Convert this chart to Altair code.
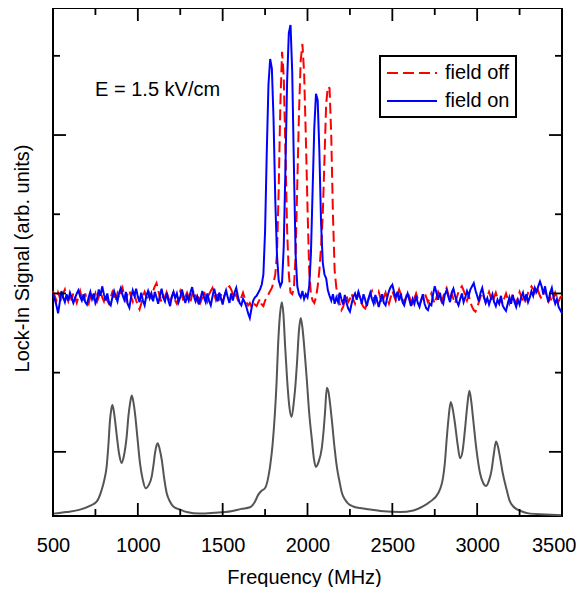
import altair as alt
import pandas as pd

FONT = "Liberation Sans, Arial, Helvetica, sans-serif"

# ---- data ----
freq_start = 500
freq_step = 10

field_on = [
    2.80, 2.74, 2.66, 2.56, 2.70, 2.84, 2.76, 2.70, 2.80, 2.72,   # 500
    2.82, 2.76, 2.69, 2.75, 2.81, 2.85, 2.77, 2.72, 2.80, 2.70,   # 600
    2.67, 2.76, 2.83, 2.74, 2.81, 2.69, 2.75, 2.86, 2.78, 2.90,   # 700
    2.80, 2.72, 2.81, 2.69, 2.66, 2.76, 2.84, 2.77, 2.71, 2.82,   # 800
    2.88, 2.79, 2.73, 2.83, 2.68, 2.63, 2.76, 2.85, 2.78, 2.87,   # 900
    2.77, 2.70, 2.82, 2.72, 2.66, 2.78, 2.84, 2.75, 2.81, 2.71,   # 1000
    2.83, 2.76, 2.68, 2.78, 2.87, 2.76, 2.71, 2.82, 2.72, 2.65,   # 1100
    2.77, 2.83, 2.75, 2.81, 2.70, 2.76, 2.86, 2.77, 2.69, 2.78,   # 1200
    2.72, 2.82, 2.89, 2.78, 2.71, 2.77, 2.67, 2.75, 2.84, 2.76,   # 1300
    2.70, 2.81, 2.72, 2.66, 2.77, 2.87, 2.78, 2.71, 2.82, 2.75,   # 1400
    2.67, 2.78, 2.85, 2.76, 2.69, 2.81, 2.72, 2.82, 2.88, 2.77,   # 1500
    2.69, 2.66, 2.74, 2.70, 2.64, 2.56, 2.50, 2.62, 2.72, 2.76,   # 1600
    2.78, 2.82, 2.86, 2.92, 3.05, 3.60, 4.60, 5.45, 5.77, 5.65,   # 1700
    5.00, 4.00, 3.30, 2.98, 2.90, 2.95, 3.40, 4.40, 5.50, 6.10,   # 1800
    6.20, 5.60, 4.40, 3.30, 2.90, 2.80, 2.76, 2.84, 2.74, 2.80,   # 1900
    2.76, 2.90, 3.30, 4.10, 4.90, 5.33, 5.25, 4.60, 3.70, 3.20,   # 2000
    3.05, 3.00, 2.85, 2.78, 2.72, 2.80, 2.68, 2.76, 2.70, 2.82,   # 2100
    2.74, 2.67, 2.79, 2.69, 2.62, 2.58, 2.68, 2.77, 2.81, 2.73,   # 2200
    2.83, 2.76, 2.68, 2.80, 2.73, 2.65, 2.75, 2.82, 2.74, 2.68,   # 2300
    2.79, 2.72, 2.64, 2.73, 2.80, 2.69, 2.66, 2.76, 2.84, 2.89,   # 2400
    2.92, 2.83, 2.75, 2.83, 2.72, 2.81, 2.70, 2.66, 2.75, 2.81,   # 2500
    2.73, 2.65, 2.74, 2.68, 2.78, 2.69, 2.64, 2.73, 2.80, 2.68,   # 2600
    2.62, 2.60, 2.68, 2.66, 2.80, 2.90, 2.82, 2.73, 2.82, 2.72,   # 2700
    2.68, 2.80, 2.85, 2.77, 2.70, 2.82, 2.87, 2.78, 2.71, 2.66,   # 2800
    2.74, 2.81, 2.70, 2.76, 2.84, 2.78, 2.86, 2.90, 2.94, 2.85,   # 2900
    2.78, 2.71, 2.82, 2.88, 2.77, 2.69, 2.75, 2.67, 2.74, 2.80,   # 3000
    2.70, 2.65, 2.73, 2.68, 2.78, 2.66, 2.62, 2.59, 2.68, 2.76,   # 3100
    2.68, 2.79, 2.70, 2.64, 2.73, 2.67, 2.77, 2.82, 2.72, 2.80,   # 3200
    2.70, 2.76, 2.84, 2.78, 2.88, 2.83, 2.90, 2.96, 2.90, 2.80,   # 3300
    2.90, 2.78, 2.70, 2.82, 2.88, 2.76, 2.68, 2.74, 2.64, 2.60,   # 3400
    2.56,                                                         # 3500
]

field_off = [
    2.84, 2.78, 2.72, 2.82, 2.76, 2.70, 2.81, 2.86, 2.77, 2.71,   # 500
    2.80, 2.72, 2.82, 2.76, 2.69, 2.77, 2.84, 2.75, 2.70, 2.81,   # 600
    2.72, 2.68, 2.77, 2.82, 2.75, 2.81, 2.71, 2.77, 2.84, 2.76,   # 700
    2.71, 2.80, 2.72, 2.68, 2.76, 2.83, 2.77, 2.71, 2.81, 2.75,   # 800
    2.82, 2.88, 2.78, 2.72, 2.81, 2.85, 2.77, 2.71, 2.80, 2.72,   # 900
    2.66, 2.61, 2.68, 2.77, 2.83, 2.78, 2.72, 2.81, 2.76, 2.84,   # 1000
    2.90, 2.94, 2.85, 2.76, 2.70, 2.80, 2.72, 2.82, 2.76, 2.69,   # 1100
    2.76, 2.82, 2.72, 2.68, 2.76, 2.84, 2.78, 2.71, 2.77, 2.82,   # 1200
    2.76, 2.70, 2.80, 2.85, 2.79, 2.72, 2.80, 2.70, 2.76, 2.83,   # 1300
    2.77, 2.71, 2.80, 2.84, 2.88, 2.80, 2.73, 2.81, 2.72, 2.80,   # 1400
    2.71, 2.77, 2.84, 2.88, 2.90, 2.86, 2.80, 2.75, 2.80, 2.72,   # 1500
    2.70, 2.76, 2.82, 2.75, 2.70, 2.66, 2.69, 2.64, 2.62, 2.67,   # 1600
    2.65, 2.70, 2.74, 2.67, 2.65, 2.72, 2.76, 2.80, 2.84, 2.88,   # 1700
    2.95, 3.05, 3.30, 4.10, 5.20, 5.86, 5.55, 4.60, 3.60, 3.05,   # 1800
    2.82, 2.80, 2.88, 3.30, 4.20, 5.10, 5.75, 5.96, 5.60, 4.80,   # 1900
    3.90, 3.10, 2.80, 2.72, 2.69, 2.76, 2.90, 3.10, 3.40, 3.80,   # 2000
    4.50, 5.20, 5.42, 5.40, 4.80, 3.80, 3.10, 2.88, 2.80, 2.68,   # 2100
    2.60, 2.64, 2.72, 2.78, 2.70, 2.74, 2.81, 2.73, 2.68, 2.76,   # 2200
    2.82, 2.74, 2.68, 2.64, 2.62, 2.67, 2.74, 2.80, 2.84, 2.76,   # 2300
    2.70, 2.77, 2.83, 2.75, 2.69, 2.76, 2.82, 2.74, 2.68, 2.76,   # 2400
    2.84, 2.78, 2.72, 2.79, 2.86, 2.80, 2.76, 2.70, 2.76, 2.83,   # 2500
    2.77, 2.71, 2.68, 2.75, 2.81, 2.74, 2.67, 2.72, 2.77, 2.82,   # 2600
    2.76, 2.70, 2.75, 2.81, 2.74, 2.68, 2.76, 2.83, 2.78, 2.71,   # 2700
    2.77, 2.84, 2.88, 2.80, 2.73, 2.81, 2.74, 2.68, 2.76, 2.83,   # 2800
    2.87, 2.90, 2.85, 2.78, 2.72, 2.79, 2.70, 2.64, 2.60, 2.58,   # 2900
    2.63, 2.70, 2.77, 2.82, 2.76, 2.70, 2.77, 2.83, 2.76, 2.70,   # 3000
    2.76, 2.82, 2.75, 2.69, 2.74, 2.68, 2.75, 2.81, 2.74, 2.68,   # 3100
    2.74, 2.80, 2.73, 2.68, 2.76, 2.83, 2.77, 2.71, 2.68, 2.75,   # 3200
    2.82, 2.86, 2.90, 2.87, 2.82, 2.89, 2.84, 2.78, 2.74, 2.80,   # 3300
    2.86, 2.78, 2.71, 2.77, 2.70, 2.75, 2.82, 2.76, 2.71, 2.76,   # 3400
    2.78,                                                         # 3500
]

ref_freq = [
    500, 580, 659, 720, 757, 787, 803, 816, 826, 836, 843, 850, 858, 866, 875,
    890, 905, 918, 934, 945, 954, 964, 973, 983, 998, 1013, 1030, 1046, 1064,
    1082, 1092, 1101, 1110, 1117, 1128, 1141, 1155, 1170, 1190, 1209, 1250,
    1288, 1366, 1450, 1550, 1610, 1661, 1690, 1710, 1730, 1749, 1765, 1779,
    1795, 1808, 1818, 1826, 1838, 1849, 1858, 1868, 1880, 1893, 1906, 1920,
    1930, 1938, 1950, 1960, 1970, 1984, 1996, 2010, 2026, 2038, 2049, 2065,
    2085, 2095, 2103, 2114, 2125, 2135, 2144, 2160, 2173, 2190, 2203, 2220,
    2238, 2270, 2309, 2380, 2450, 2545, 2624, 2680, 2722, 2771, 2800, 2810,
    2820, 2832, 2844, 2856, 2869, 2885, 2899, 2914, 2928, 2942, 2954, 2965,
    2977, 2995, 3017, 3035, 3052, 3070, 3085, 3098, 3111, 3122, 3134, 3150,
    3174, 3190, 3213, 3260, 3311, 3400, 3500,
]
ref_signal = [
    0.03, 0.05, 0.08, 0.13, 0.18, 0.33, 0.46, 0.62, 0.88, 1.21, 1.34, 1.40, 1.33, 1.20, 1.03,
    0.78, 0.67, 0.76, 1.00, 1.27, 1.42, 1.52, 1.45, 1.30, 0.98, 0.66, 0.45, 0.35, 0.39,
    0.50, 0.64, 0.79, 0.89, 0.92, 0.85, 0.71, 0.48, 0.29, 0.18, 0.12, 0.08,
    0.05, 0.03, 0.04, 0.06, 0.09, 0.11, 0.18, 0.27, 0.32, 0.35, 0.45, 0.62,
    0.92, 1.30, 1.70, 2.13, 2.55, 2.70, 2.55, 2.15, 1.72, 1.38, 1.25, 1.45,
    1.68, 1.93, 2.35, 2.50, 2.38, 2.05, 1.72, 1.30, 0.96, 0.72, 0.62, 0.68,
    0.87, 1.08, 1.30, 1.62, 1.55, 1.38, 1.20, 0.85, 0.62, 0.42, 0.29, 0.21,
    0.16, 0.12, 0.10, 0.08, 0.06, 0.05, 0.07, 0.12, 0.18, 0.29, 0.50, 0.68,
    0.96, 1.25, 1.44, 1.35, 1.17, 0.90, 0.73, 0.82, 1.09, 1.40, 1.58, 1.45,
    1.21, 0.85, 0.54, 0.42, 0.38, 0.45, 0.58, 0.78, 0.94, 0.88, 0.75, 0.55,
    0.33, 0.20, 0.12, 0.06, 0.03, 0.02, 0.01,
]

series_names = ["field off", "field on"]
series_colors = ["#ff0000", "#0000ff"]
x_major = [500, 1000, 1500, 2000, 2500, 3000, 3500]
x_minor = [750, 1250, 1750, 2250, 2750, 3250]
y_major = [0.81, 2.81, 4.81]
y_minor = [1.81, 3.81, 5.81]
annotation = "E = 1.5 kV/cm"

# ---- tables ----
n = len(field_on)
assert n == len(field_off)
freq = [freq_start + freq_step * i for i in range(n)]
sig = pd.DataFrame({
    "f": freq + freq,
    "v": field_off + field_on,
    "series": [series_names[0]] * n + [series_names[1]] * n,
})
ref_df = pd.DataFrame({"f": ref_freq, "v": ref_signal})

W, H = 509, 508


def build(fancy):
    extra = {}
    if fancy:
        extra = dict(
            labelAlign={"condition": {"test": "datum.value >= 3500", "value": "right"}, "value": "center"},
            labelOffset={"condition": {"test": "datum.value >= 3500", "value": 14}, "value": 0},
        )
    x_axis = alt.Axis(
        title="Frequency (MHz)", values=x_major, format="d", ticks=False, tickSize=0,
        domain=False, grid=False, labelFont=FONT, labelFontSize=20, labelColor="black",
        labelPadding=35, labelBaseline="alphabetic", labelFlush=False, labelOverlap=False,
        titleFont=FONT, titleFontSize=20, titleFontWeight="normal", titleColor="black",
        titleX=251, titleY=67, titleAlign="center", titleBaseline="alphabetic", **extra,
    )
    y_axis = alt.Axis(
        title="Lock-In Signal (arb. units)", labels=False, ticks=False, tickSize=0,
        domain=False, grid=False, titleFont=FONT, titleFontSize=20,
        titleFontWeight="normal", titleColor="black", titleX=-31, titleY=250,
        titleAngle=270, titleAlign="center", titleBaseline="middle",
    )
    X = alt.X("f:Q", scale=alt.Scale(domain=[500, 3500], nice=False, zero=False), axis=x_axis)
    Y = alt.Y("v:Q", scale=alt.Scale(domain=[0, 6.414], nice=False, zero=False), axis=y_axis)

    leg = alt.Legend(
        title=None, orient="none", legendX=327, legendY=48,
        symbolType="M-2.5,0H2.5", symbolSize=400, symbolStrokeWidth=2,
        symbolOffset=15, labelOffset=22,
        labelFont=FONT, labelFontSize=20, labelColor="black",
        strokeColor="black", padding=6, rowPadding=7, fillColor="white",
    )
    color = alt.Color("series:N", scale=alt.Scale(domain=series_names, range=series_colors), legend=leg)
    dash = alt.StrokeDash("series:N", scale=alt.Scale(domain=series_names, range=[[11, 5], [1, 0]]), legend=leg)

    ref_line = alt.Chart(ref_df).mark_line(color="#555555", strokeWidth=2, interpolate="monotone").encode(x=X, y=Y)
    off_line = alt.Chart(sig).transform_filter(alt.datum.series == series_names[0]).mark_line(strokeWidth=2).encode(
        x=X, y=Y, color=color, strokeDash=dash)
    on_line = alt.Chart(sig).transform_filter(alt.datum.series == series_names[1]).mark_line(strokeWidth=2).encode(
        x=X, y=Y, color=color, strokeDash=dash)

    text = alt.Chart(pd.DataFrame({"f": [748], "v": [5.30], "t": [annotation]})).mark_text(
        align="left", baseline="alphabetic", font=FONT, fontSize=20, color="black").encode(x=X, y=Y, text="t:N")

    xmaj = pd.DataFrame({"f": x_major})
    xmin = pd.DataFrame({"f": x_minor})
    ymaj = pd.DataFrame({"v": y_major})
    ymin = pd.DataFrame({"v": y_minor})
    tick = dict(color="black", strokeWidth=1.8)
    ticks = [
        alt.Chart(xmaj).mark_rule(**tick).encode(x=X, y=alt.value(H), y2=alt.value(H - 13)),
        alt.Chart(xmin).mark_rule(**tick).encode(x=X, y=alt.value(H), y2=alt.value(H - 7)),
        alt.Chart(xmaj).mark_rule(**tick).encode(x=X, y=alt.value(0), y2=alt.value(13)),
        alt.Chart(xmin).mark_rule(**tick).encode(x=X, y=alt.value(0), y2=alt.value(7)),
        alt.Chart(ymaj).mark_rule(**tick).encode(y=Y, x=alt.value(0), x2=alt.value(13)),
        alt.Chart(ymin).mark_rule(**tick).encode(y=Y, x=alt.value(0), x2=alt.value(7)),
        alt.Chart(ymaj).mark_rule(**tick).encode(y=Y, x=alt.value(W), x2=alt.value(W - 13)),
        alt.Chart(ymin).mark_rule(**tick).encode(y=Y, x=alt.value(W), x2=alt.value(W - 7)),
    ]

    ch = alt.layer(ref_line, off_line, on_line, text, *ticks).properties(
        width=W, height=H,
        autosize=alt.AutoSizeParams(type="none"),
        padding={"left": 45, "top": 0, "right": 14, "bottom": 71},
    ).configure_view(stroke="black", strokeWidth=2)
    if fancy:
        ch = ch.configure_legend(strokeWidth=2)
    return ch


try:
    chart = build(True)
    chart.to_dict()
except Exception:
    chart = build(False)

chart.save("out.html", embed_options={"renderer": "svg", "actions": False})
